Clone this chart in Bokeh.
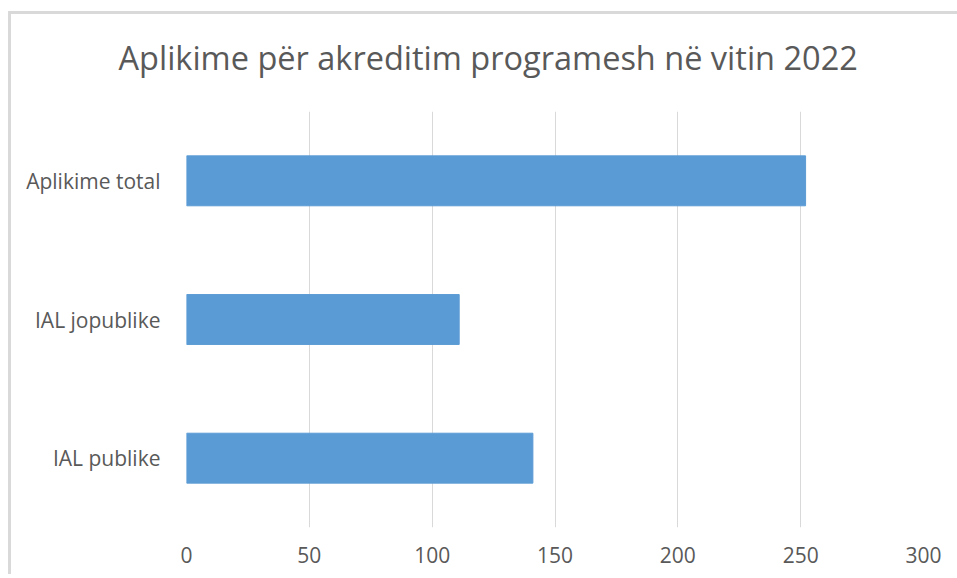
from bokeh.plotting import figure
from bokeh.models import Range1d, FixedTicker
from bokeh.embed import file_html
from bokeh.resources import INLINE

categories = ["IAL publike", "IAL jopublike", "Aplikime total"]
values = [141, 111, 252]
x_ticks = [0, 50, 100, 150, 200, 250, 300]
title_text = "Aplikime për akreditim programesh në vitin 2022"

TEXT = "#595959"
GRID = "#d9d9d9"
BAR = "#5b9bd5"
FONT = "Open Sans"

p = figure(width=957, height=574, y_range=categories, x_range=Range1d(0, 300),
           output_backend="svg", toolbar_location=None,
           min_border_left=186, min_border_right=34, min_border_top=111, min_border_bottom=47,
           styles={"background-image": "linear-gradient(#d9d9d9,#d9d9d9), linear-gradient(#d9d9d9,#d9d9d9)",
                   "background-position": "8px 11px, 8px 11px",
                   "background-size": "3px 600px, 960px 3px",
                   "background-repeat": "no-repeat, no-repeat"})
p.border_fill_alpha = 0
p.background_fill_alpha = 0

p.hbar(y=categories, right=values, left=0, height=0.36, fill_color=BAR, line_color=BAR)

p.title.text = title_text
p.title.text_font = FONT
p.title.text_font_size = "32.5px"
p.title.text_font_style = "normal"
p.title.text_color = TEXT
p.title.align = "left"
p.title.offset = -68
p.title.standoff = 63

p.outline_line_color = None
p.xaxis.ticker = FixedTicker(ticks=x_ticks)
p.xaxis.axis_line_color = None
p.xaxis.major_tick_line_color = None
p.xaxis.minor_tick_line_color = None
p.xaxis.major_label_standoff = 13
p.xaxis.major_label_text_font = FONT
p.xaxis.major_label_text_font_size = "21px"
p.xaxis.major_label_text_color = TEXT

p.yaxis.axis_line_color = None
p.yaxis.major_tick_line_color = None
p.yaxis.minor_tick_line_color = None
p.yaxis.major_label_standoff = 20
p.yaxis.major_label_text_font = FONT
p.yaxis.major_label_text_font_size = "21px"
p.yaxis.major_label_text_color = TEXT

p.xgrid.grid_line_color = GRID
p.xgrid.grid_line_width = 1
p.ygrid.grid_line_color = None
p.y_range.range_padding = 0

open("out.html", "w").write(file_html(p, INLINE))
